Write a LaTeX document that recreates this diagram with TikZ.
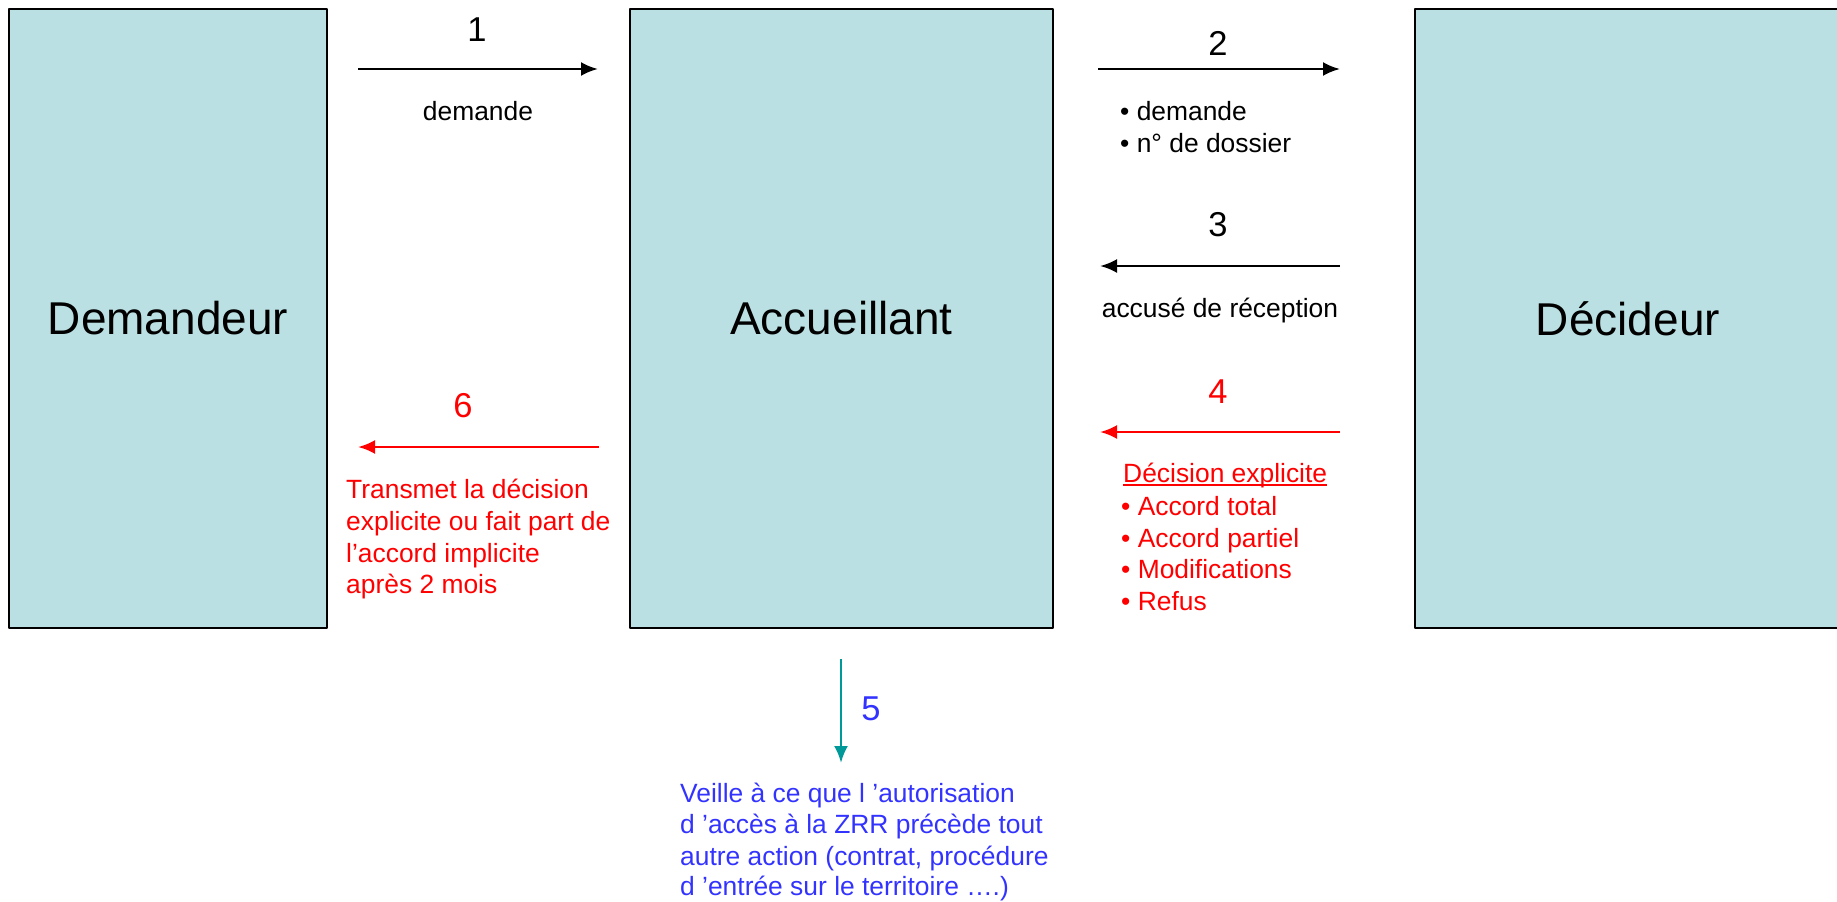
\documentclass[tikz,border=0pt]{standalone}
\usepackage{fontspec}
\setmainfont{Liberation Sans}
\usetikzlibrary{arrows.meta}

\definecolor{boxfill}{RGB}{187,224,227}
\definecolor{decred}{RGB}{255,0,0}
\definecolor{veilleblue}{RGB}{51,51,255}
\definecolor{arrteal}{RGB}{0,153,153}

\begin{document}
\begin{tikzpicture}[x=1pt,y=-1pt,>={Latex[length=17pt,width=14pt]},line join=bevel,
  actor/.style={draw=black,line width=2pt,fill=boxfill,rectangle,minimum height=619pt,inner sep=0pt,font=\fontsize{46}{55}\selectfont},
  num/.style={anchor=base,font=\fontsize{34.5}{41}\selectfont},
  txt/.style={anchor=base west,inner sep=0pt,font=\fontsize{26.4}{31.7}\selectfont},
  flow/.style={->,line width=2.6pt}]
\useasboundingbox (0,0) rectangle (1837,902);

% Node: Demandeur
\node[actor,minimum width=318pt] (dem) at (168,318.5) {Demandeur};

% Node: Accueillant
\node[actor,minimum width=423pt] (acc) at (841.5,318.5) {Accueillant};

% Node: Decideur
\node[actor,minimum width=426pt] (dec) at (1628,318.5) {Décideur};

% Edge: 1, Demandeur -> Accueillant
\coordinate (e1a) at (358,69);
\coordinate (e1b) at (598,69);
\draw [flow] (e1a) -- (e1b);
\node[num] (n1) at (477,41) {1};
\node[txt,anchor=base] (t1) at (478,120) {demande};

% Edge: 2, Accueillant -> Decideur
\coordinate (e2a) at (1098,69);
\coordinate (e2b) at (1340,69);
\draw [flow] (e2a) -- (e2b);
\node[num] (n2) at (1218,55) {2};
\node[txt] (t2a) at (1120,120) {• demande};
\node[txt] (t2b) at (1120,152) {• n° de dossier};

% Edge: 3, Decideur -> Accueillant
\coordinate (e3a) at (1340,266);
\coordinate (e3b) at (1100,266);
\draw [flow] (e3a) -- (e3b);
\node[num] (n3) at (1218,236) {3};
\node[txt,anchor=base] (t3) at (1220,317) {accusé de réception};

% Edge: 4, Decideur -> Accueillant
\coordinate (e4a) at (1340,432);
\coordinate (e4b) at (1100,432);
\draw [flow,decred] (e4a) -- (e4b);
\node[num,text=decred] (n4) at (1218,403) {4};
\node[txt,text=decred] (t4a) at (1123,482) {Décision explicite};
\draw [decred,line width=1.6pt] ([yshift=-3pt]t4a.base west) -- ([yshift=-3pt]t4a.base east);
\node[txt,text=decred] (t4b) at (1121,515) {• Accord total};
\node[txt,text=decred] (t4c) at (1121,547) {• Accord partiel};
\node[txt,text=decred] (t4d) at (1121,578) {• Modifications};
\node[txt,text=decred] (t4e) at (1121,610) {• Refus};

% Edge: 5, Accueillant -> below
\coordinate (e5a) at (841,659);
\coordinate (e5b) at (841,763);
\draw [flow,arrteal] (e5a) -- (e5b);
\node[num,text=veilleblue] (n5) at (871,720) {5};
\node[txt,text=veilleblue] (t5a) at (680,802) {Veille à ce que l ’autorisation};
\node[txt,text=veilleblue] (t5b) at (680,833) {d ’accès à la ZRR précède tout};
\node[txt,text=veilleblue] (t5c) at (680,865) {autre action (contrat, procédure};
\node[txt,text=veilleblue] (t5d) at (680,895) {d ’entrée sur le territoire ….)};

% Edge: 6, Accueillant -> Demandeur
\coordinate (e6a) at (599,447);
\coordinate (e6b) at (358,447);
\draw [flow,decred] (e6a) -- (e6b);
\node[num,text=decred] (n6) at (463,417) {6};
\node[txt,text=decred] (t6a) at (346,498) {Transmet la décision};
\node[txt,text=decred] (t6b) at (346,530) {explicite ou fait part de};
\node[txt,text=decred] (t6c) at (346,562) {l’accord implicite};
\node[txt,text=decred] (t6d) at (346,593) {après 2 mois};
%
\end{tikzpicture}
\end{document}
